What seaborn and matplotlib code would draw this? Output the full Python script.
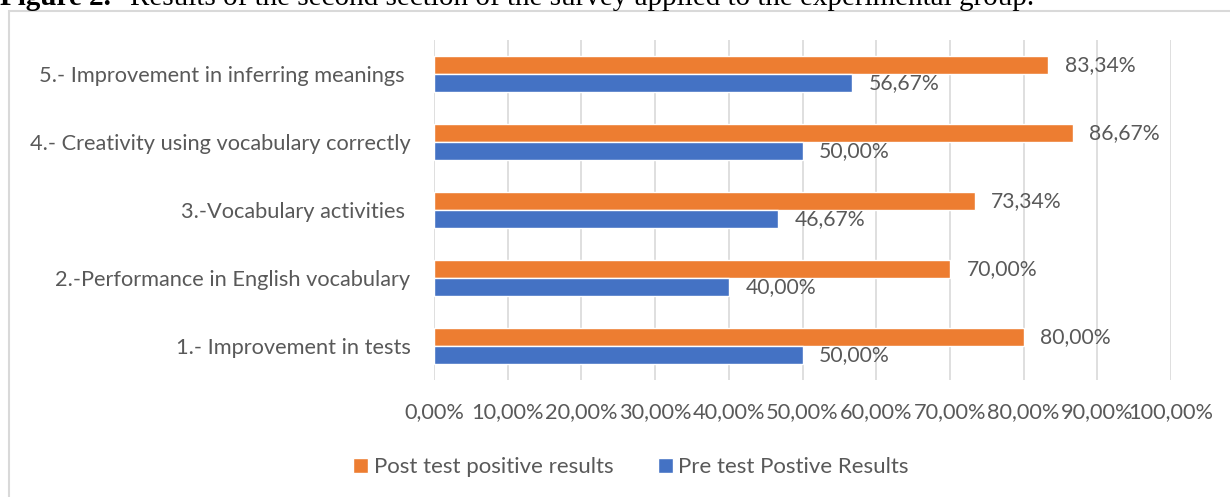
import pandas as pd
import matplotlib.pyplot as plt
import seaborn as sns
from matplotlib.patches import Rectangle

# DATOS

items = [
    "5.- Improvement in inferring meanings ",
    "4.- Creativity using vocabulary correctly",
    "3.-Vocabulary activities ",
    "2.-Performance in English vocabulary",
    "1.- Improvement in tests",
]
post_values = [0.8334, 0.8667, 0.7334, 0.7000, 0.8000]
pre_values = [0.5667, 0.5000, 0.4667, 0.4000, 0.5000]
series_names = ["Post test positive results", "Pre test Postive Results"]
x_ticks = [0.0, 0.1, 0.2, 0.3, 0.4, 0.5, 0.6, 0.7, 0.8, 0.9, 1.0]

# COLORES

orange = "#ED7D31"
blue = "#4472C4"
text_color = "#595959"
grid_color = "#D9D9D9"

df = pd.DataFrame({
    "item": items * 2,
    "value": post_values + pre_values,
    "series": [series_names[0]] * len(items) + [series_names[1]] * len(items),
})

sns.set_style("white")
plt.rcParams["font.family"] = ["Lato", "DejaVu Sans"]

fig = plt.figure(figsize=(12.3, 4.97), dpi=100)
ax = fig.add_axes([434 / 1230, 1 - 380 / 497, 737 / 1230, 340 / 497])

sns.barplot(
    data=df, x="value", y="item", hue="series",
    order=items, hue_order=series_names,
    palette=[orange, blue], width=0.52, orient="h",
    saturation=1, ax=ax, legend=True,
)

ax.set_xlim(0, 1.0)
ax.set_xticks(x_ticks)
ax.set_xticklabels([f"{t * 100:.2f}%".replace(".", ",") for t in x_ticks])
ax.grid(axis="x", color=grid_color, linewidth=1.2)
ax.grid(axis="y", visible=False)
ax.set_axisbelow(True)
for s in ax.spines.values():
    s.set_visible(False)
ax.set_xlabel("")
ax.set_ylabel("")
ax.tick_params(axis="x", length=0, pad=16, labelsize=15.7, labelcolor=text_color)
ax.tick_params(axis="y", length=0, pad=17, labelsize=15.7, labelcolor=text_color)

for cont in ax.containers:
    ax.bar_label(
        cont,
        labels=[f"{v * 100:.2f}%".replace(".", ",") for v in cont.datavalues],
        padding=12, fontsize=15.2, color=text_color,
    )

ax.legend(
    loc="center", bbox_to_anchor=(631 / 1230, 1 - 467 / 497),
    bbox_transform=fig.transFigure, ncol=2, frameon=False,
    fontsize=16, labelcolor=text_color, handlelength=0.68, handleheight=0.68,
    handletextpad=0.25, columnspacing=2.0,
)

# MARCO Y TITULO

fig.patches.append(Rectangle(
    (8.5 / 1230, -0.1), 1.2, 0.1 + (497 - 10.5) / 497,
    transform=fig.transFigure, fill=False, edgecolor=grid_color, linewidth=1.5,
))

fig.text(0.0, 1 - 5 / 497, "Figure 2.", family="Liberation Serif",
         fontweight="bold", fontsize=21, va="baseline", color="black")
fig.text(130 / 1230, 1 - 5 / 497,
         "Results of the second section of the survey applied to the experimental group.",
         family="Liberation Serif", fontsize=21, va="baseline", color="black")

plt.savefig("out.png", dpi=100, facecolor="white")
